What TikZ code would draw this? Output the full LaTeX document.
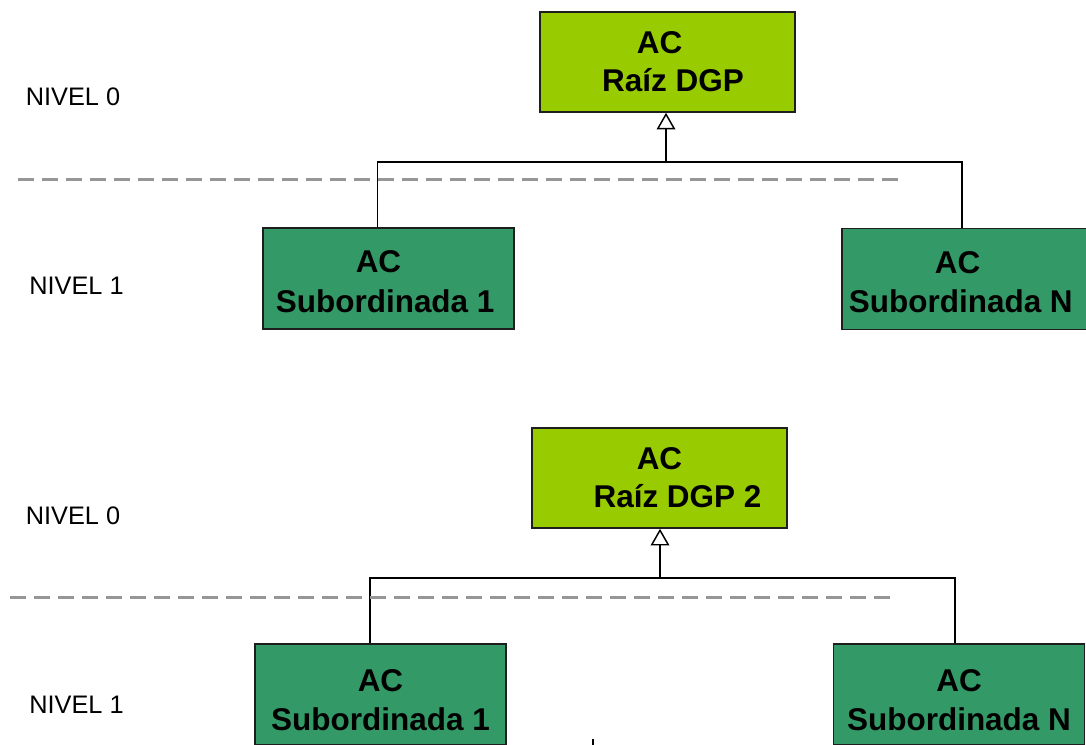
\documentclass[tikz,border=0pt]{standalone}
\usepackage{fontspec}
\setmainfont{Liberation Sans}
\usetikzlibrary{arrows.meta}

\definecolor{raizgreen}{RGB}{153,204,0}
\definecolor{subgreen}{RGB}{51,153,102}
\definecolor{levelgray}{RGB}{150,150,150}

\tikzset{
  raiz/.style={draw={rgb,255:red,30;green,30;blue,30}, line width=1.2pt, fill=raizgreen,
    minimum width=191.25pt, minimum height=75pt, align=center, inner sep=0pt,
    font=\fontsize{23.6}{28.5}\selectfont\bfseries},
  subord/.style={raiz, fill=subgreen, minimum width=188.25pt, minimum height=75.5pt,
    font=\fontsize{23.6}{29.5}\selectfont\bfseries},
  nivel/.style={font=\fontsize{19}{22}\selectfont, inner sep=0pt},
  linea/.style={line width=1.1pt},
  hueca/.style={-{Triangle[open, length=12.5pt, width=14pt]}, line width=1.1pt},
  divisoria/.style={levelgray, line width=2.25pt, dash pattern=on 12pt off 6pt}
}
\newcommand{\bajar}{\rule{0pt}{21pt}}

\begin{document}
\begin{tikzpicture}[x=0.75pt,y=0.75pt,yscale=-1,xscale=1]
\useasboundingbox (0,0) rectangle (1086,745);

%Upper tree
\node[raiz] (raiz) at (667.5,62) {AC\hspace*{12pt}\\\hspace*{8.25pt}Raíz DGP};
\node[subord] (sub1) at (388.5,278.5) {\bajar AC\hspace*{15pt}\\Subordinada 1\hspace*{5pt}};
\node[subord] (subN) at (967.5,279) {\bajar AC\hspace*{15pt}\\Subordinada N\hspace*{10pt}};
\coordinate (bus) at (666,162);
\draw[hueca] (bus) -- (raiz.south -| bus);
\draw[linea] ([xshift=-8.25pt]sub1.north) |- (bus) -| ([xshift=-4.1pt]subN.north);
%Level divider
\draw[divisoria] (18,180) -- (905,180);
% Text Node
\node[nivel] (nivelA0) at (73,97) {NIVEL 0};
% Text Node
\node[nivel] (nivelA1) at (76.5,286) {NIVEL 1};

%Lower tree
\node[raiz] (raizB) at (659.5,478) {AC\\\hspace*{27pt}Raíz DGP 2};
\node[subord] (subB1) at (380.5,694.5) {\rule{0pt}{25pt}AC\\Subordinada 1};
\node[subord] (subBN) at (959,694.5) {\rule{0pt}{25pt}AC\\Subordinada N};
\coordinate (busB) at (660,578);
\draw[hueca] (busB) -- (raizB.south -| busB);
\draw[linea] ([xshift=-7.9pt]subB1.north) |- (busB) -| ([xshift=-3pt]subBN.north);
%Level divider
\draw[divisoria] (10,597) -- (897,597);
% Text Node
\node[nivel] (nivelB0) at (73,516) {NIVEL 0};
% Text Node
\node[nivel] (nivelB1) at (76.5,705) {NIVEL 1};

%cut-off stroke at the lower edge
\draw[linea] (593,739) -- (593,748);

\end{tikzpicture}
\end{document}
